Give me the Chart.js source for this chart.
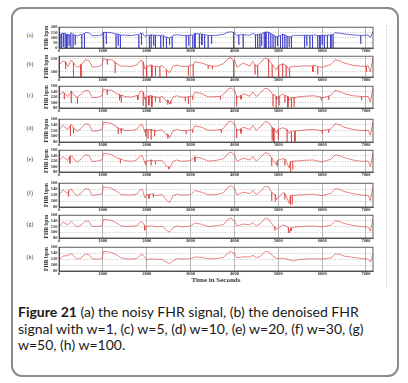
<!DOCTYPE html>
<html>
<head>
<meta charset="utf-8">
<script src="https://cdn.jsdelivr.net/npm/chart.js@4/dist/chart.umd.min.js"></script>
<style>
html, body { margin: 0; padding: 0; background: #fff; }
body { width: 408px; height: 383px; position: relative; overflow: hidden; }
#box { position: absolute; left: 11px; top: 7px; width: 388px; height: 370px; box-sizing: border-box;
       border: 2px solid #8c8c8c; border-radius: 11px; }
#edge { position: absolute; left: 386px; top: 25px; height: 262px; border-left: 1px dotted #d0d0d0; }
canvas { position: absolute; }
.tag { position: absolute; width: 20px; left: 20px; text-align: center; font: 6px "Liberation Serif", serif; color: #444; }
#cap { position: absolute; left: 18px; top: 304px; font: 14px Lato, sans-serif; line-height: 16.5px; color: #1a1a1a; white-space: nowrap; }
</style>
</head>
<body>
<div id="box"></div>
<div id="edge"></div>
<div id="cap"><b>Figure 21</b> (a) the noisy FHR signal, (b) the denoised FHR<br>signal with w=1, (c) w=5, (d) w=10, (e) w=20, (f) w=30, (g)<br>w=50, (h) w=100.</div>
<script>
// sample times (seconds) shared by all traces
const times = [
  0, 90, 200, 280, 350, 420, 500, 600, 680, 760,
  900, 985, 1010, 1100, 1200, 1300, 1400, 1500, 1650, 1780,
  1850, 1900, 1960, 2000, 2100, 2200, 2350, 2450, 2520, 2600,
  2680, 2800, 3000, 3100, 3250, 3400, 3600, 3750, 3850, 3920,
  4000, 4060, 4200, 4350, 4420, 4500, 4600, 4700, 4780, 4880,
  4960, 5100, 5250, 5350, 5450, 5600, 5800, 6000, 6200, 6300,
  6400, 6500, 6700, 6900, 7050, 7100, 7160
];

// FHR (bpm) at those times, one list per panel
const fhrA = [
  128, 144, 120, 146, 126, 116, 132, 148, 145, 118,
  120, 128, 152, 150, 147, 133, 122, 123, 120, 128,
  143, 144, 110, 124, 128, 117, 126, 103, 96, 122,
  127, 121, 125, 140, 135, 121, 122, 132, 151, 156,
  147, 117, 135, 122, 141, 123, 138, 155, 151, 125,
  108, 133, 106, 122, 121, 124, 127, 117, 129, 147,
  143, 135, 126, 121, 124, 100, 158
];
const fhrB = [
  126, 142, 120, 145, 126, 117, 131, 146, 144, 118,
  120, 127, 151, 149, 146, 133, 122, 122, 120, 127,
  142, 143, 110, 124, 127, 117, 125, 103, 96, 121,
  126, 121, 124, 139, 134, 121, 122, 131, 150, 155,
  146, 117, 134, 122, 140, 122, 137, 154, 150, 124,
  108, 132, 106, 121, 121, 123, 126, 117, 128, 146,
  142, 134, 125, 121, 123, 100, 154
];
const fhrC = [
  125, 140, 122, 143, 126, 118, 130, 145, 143, 118,
  120, 126, 150, 148, 146, 133, 122, 122, 120, 126,
  141, 142, 112, 123, 126, 117, 124, 104, 96, 120,
  125, 120, 123, 138, 133, 121, 122, 130, 149, 154,
  145, 118, 133, 123, 139, 122, 136, 153, 149, 124,
  110, 131, 108, 120, 121, 123, 125, 117, 127, 145,
  141, 133, 125, 120, 122, 102, 152
];
const fhrD = [
  122, 138, 124, 142, 126, 118, 128, 144, 142, 118,
  120, 125, 150, 148, 145, 134, 122, 121, 120, 125,
  140, 141, 114, 122, 125, 118, 123, 105, 95, 119,
  124, 120, 122, 137, 132, 121, 122, 128, 148, 153,
  144, 120, 132, 124, 138, 121, 135, 152, 148, 124,
  112, 130, 110, 120, 120, 122, 124, 118, 126, 144,
  140, 132, 124, 120, 121, 104, 150
];
const fhrE = [
  122, 136, 123, 141, 125, 117, 127, 143, 141, 118,
  121, 125, 149, 147, 144, 133, 122, 122, 119, 125,
  139, 140, 112, 121, 125, 117, 123, 102, 93, 119,
  124, 119, 122, 136, 131, 120, 123, 129, 147, 153,
  143, 119, 131, 124, 137, 120, 134, 151, 148, 123,
  106, 129, 95, 120, 121, 123, 124, 117, 127, 143,
  140, 133, 124, 119, 120, 100, 149
];
const fhrF = [
  120, 138, 124, 140, 126, 118, 126, 142, 140, 119,
  122, 124, 148, 146, 143, 134, 123, 121, 120, 124,
  138, 139, 110, 122, 124, 118, 122, 104, 95, 118,
  123, 120, 121, 135, 130, 121, 122, 128, 146, 152,
  142, 120, 130, 125, 136, 121, 133, 150, 147, 124,
  105, 128, 92, 119, 120, 122, 123, 118, 126, 142,
  139, 132, 125, 120, 119, 102, 148
];
const fhrG = [
  118, 136, 126, 138, 127, 119, 125, 140, 138, 120,
  121, 123, 145, 144, 141, 134, 124, 120, 121, 123,
  136, 137, 108, 120, 123, 119, 121, 108, 100, 116,
  122, 119, 122, 133, 128, 120, 123, 127, 145, 150,
  140, 122, 129, 126, 135, 122, 132, 149, 146, 125,
  110, 126, 98, 118, 119, 121, 122, 119, 125, 140,
  138, 131, 124, 120, 118, 104, 146
];
const fhrH = [
  115, 130, 132, 139, 128, 120, 124, 137, 136, 121,
  120, 122, 146, 145, 142, 135, 126, 121, 120, 122,
  133, 136, 126, 118, 121, 120, 119, 110, 104, 114,
  121, 120, 121, 127, 126, 121, 122, 126, 140, 146,
  138, 124, 128, 127, 133, 124, 130, 146, 144, 130,
  122, 123, 118, 113, 118, 120, 121, 120, 124, 137,
  136, 130, 126, 122, 120, 110, 138
];

// short drop-outs: [time, level around it, lowest value]
const spikesA = [
  [20, 130, 0], [60, 138, 0], [100, 142, 10], [140, 140, 0], [180, 130, 0], [230, 126, 20], [270, 138, 0],
  [320, 132, 0], [370, 125, 30], [520, 128, 0], [580, 140, 0], [1020, 150, 0], [1080, 150, 40],
  [1300, 135, 0], [1350, 133, 20], [1400, 126, 0], [1820, 126, 0], [1880, 140, 30], [2060, 122, 0],
  [2100, 124, 0], [2160, 124, 20], [2200, 122, 0], [2320, 120, 0], [2380, 118, 10], [2450, 104, 0],
  [2520, 96, 30], [2580, 108, 0], [2900, 121, 0], [2960, 121, 20], [3050, 124, 0], [3100, 138, 0],
  [3200, 136, 0], [3260, 132, 30], [3320, 128, 0], [3400, 121, 0], [3480, 121, 40], [3980, 150, 0],
  [4100, 126, 30], [4200, 128, 0], [4480, 128, 0], [4530, 130, 0], [4580, 132, 0], [4620, 136, 20],
  [4680, 150, 0], [4720, 154, 0], [4780, 152, 0], [4830, 140, 0], [4880, 128, 0], [4930, 115, 0],
  [4980, 110, 20], [5050, 120, 0], [5100, 133, 0], [5150, 126, 0], [5200, 115, 0], [5250, 106, 10],
  [5300, 112, 0], [5600, 122, 0], [5650, 122, 20], [5720, 122, 0], [5780, 122, 0], [5900, 120, 0],
  [5950, 121, 0], [6000, 122, 30], [6050, 122, 0], [6120, 123, 0], [6200, 124, 0], [6250, 130, 0],
  [6880, 121, 40]
];
const spikesB = [
  [150, 138, 110], [330, 135, 80], [500, 124, 80], [1100, 146, 128], [1280, 138, 95], [1920, 138, 82],
  [2000, 118, 80], [2120, 122, 80], [2200, 121, 84], [2300, 119, 80], [2450, 108, 80], [2950, 121, 85],
  [3060, 128, 80], [3400, 125, 112], [3500, 122, 110], [3980, 140, 80], [4470, 128, 90], [4530, 126, 80],
  [4780, 146, 80], [4860, 128, 80], [5010, 124, 80], [5100, 130, 80], [5180, 124, 80], [5260, 118, 80],
  [5790, 122, 100], [5900, 120, 90], [7010, 122, 100]
];
const spikesC = [
  [120, 135, 112], [280, 140, 98], [420, 120, 96], [1100, 145, 128], [1380, 130, 108], [1420, 128, 100],
  [1800, 124, 110], [1920, 138, 88], [1980, 120, 82], [2050, 124, 90], [2120, 122, 84], [2200, 121, 104],
  [2300, 119, 100], [2480, 110, 92], [2550, 105, 94], [2880, 120, 105], [2950, 121, 95], [3050, 124, 110],
  [3680, 123, 110], [4050, 125, 86], [4150, 126, 112], [4880, 130, 85], [4950, 124, 80], [5020, 124, 90],
  [5150, 126, 100], [5220, 122, 82], [5300, 118, 80], [5360, 116, 84], [5980, 120, 108], [6150, 124, 110],
  [6900, 122, 108]
];
const spikesD = [
  [260, 138, 100], [330, 130, 110], [1350, 130, 108], [1420, 128, 110], [1980, 125, 100], [2030, 124, 92],
  [2100, 122, 88], [2180, 122, 100], [2480, 108, 92], [2900, 120, 108], [3050, 124, 112], [3700, 124, 112],
  [4050, 125, 95], [4150, 126, 110], [4860, 132, 85], [4900, 128, 80], [5000, 124, 90], [5200, 124, 80],
  [5300, 118, 80], [5380, 118, 82], [6000, 120, 110], [6150, 124, 112]
];
const spikesE = [
  [250, 138, 112], [1400, 128, 112], [1980, 120, 105], [2100, 122, 104], [2200, 121, 108], [2500, 100, 90],
  [3100, 135, 118], [4850, 132, 102], [4980, 122, 100], [5150, 128, 104], [5280, 118, 80], [5330, 120, 88]
];
const spikesF = [
  [220, 135, 115], [2050, 122, 108], [2150, 124, 112], [4850, 130, 100], [4930, 122, 98], [5150, 126, 105],
  [5280, 118, 86], [5320, 120, 90]
];
const spikesG = [[1950, 125, 106], [4920, 120, 106], [5230, 118, 98], [5290, 116, 104]];
const spikesH = [];

const xTicks = [0, 1000, 2000, 3000, 4000, 5000, 6000, 7000];
const yTicksA = [0, 50, 100, 150, 200];
const yTicksB = [100, 150];
const yTicks = [80, 100, 120, 140, 160];

const panels = [
  { tag: '(a)', values: fhrA, spikes: spikesA, ticks: yTicksA, min: 0, max: 200, color: '#2a2ac4', top: 26, bottom: 48 },
  { tag: '(b)', values: fhrB, spikes: spikesB, ticks: yTicksB, min: 80, max: 160, color: '#d82424', top: 55, bottom: 77 },
  { tag: '(c)', values: fhrC, spikes: spikesC, ticks: yTicks, min: 80, max: 160, color: '#d82424', top: 85, bottom: 108 },
  { tag: '(d)', values: fhrD, spikes: spikesD, ticks: yTicks, min: 80, max: 160, color: '#d82424', top: 118, bottom: 142 },
  { tag: '(e)', values: fhrE, spikes: spikesE, ticks: yTicks, min: 80, max: 160, color: '#d83030', top: 149, bottom: 172 },
  { tag: '(f)', values: fhrF, spikes: spikesF, ticks: yTicks, min: 80, max: 160, color: '#d83030', top: 182, bottom: 207 },
  { tag: '(g)', values: fhrG, spikes: spikesG, ticks: yTicks, min: 80, max: 160, color: '#d83838', top: 214, bottom: 238 },
  { tag: '(h)', values: fhrH, spikes: spikesH, ticks: yTicks, min: 80, max: 160, color: '#d83838', top: 246, bottom: 271 }
];

const frame = {
  id: 'frame',
  afterDraw(chart) {
    const { ctx, chartArea: a } = chart;
    ctx.save();
    ctx.strokeStyle = '#3c3c3c';
    ctx.lineWidth = 0.8;
    ctx.strokeRect(a.left, a.top, a.right - a.left, a.bottom - a.top);
    ctx.restore();
  }
};

function buildPoints(values, spikes) {
  const pts = times.map((t, i) => ({ x: t, y: values[i] }));
  spikes.forEach(([t, level, low]) => {
    pts.push({ x: t - 3, y: level }, { x: t, y: low }, { x: t + 3, y: level });
  });
  return pts.sort((p, q) => p.x - q.x);
}

const LEFT = 42, RIGHT = 376, PAD_TOP = 3;
const tickFont = { family: 'Liberation Serif', size: 4.5, weight: 'bold' };

panels.forEach((p, i) => {
  const last = i === panels.length - 1;
  const xh = last ? 16 : 7;
  const canvas = document.createElement('canvas');
  const w = RIGHT - LEFT, h = (p.bottom - p.top) + PAD_TOP + xh;
  canvas.width = w; canvas.height = h;
  canvas.style.left = LEFT + 'px';
  canvas.style.top = (p.top - PAD_TOP) + 'px';
  canvas.style.width = w + 'px'; canvas.style.height = h + 'px';
  document.body.appendChild(canvas);

  const tag = document.createElement('div');
  tag.className = 'tag';
  tag.textContent = p.tag;
  tag.style.top = ((p.top + p.bottom) / 2 - 5) + 'px';
  document.body.appendChild(tag);

  new Chart(canvas, {
    type: 'line',
    data: {
      datasets: [{
        data: buildPoints(p.values, p.spikes),
        borderColor: p.color,
        borderWidth: i === 0 ? 0.7 : 0.6,
        pointRadius: 0,
        tension: 0
      }]
    },
    options: {
      animation: false,
      responsive: false,
      events: [],
      layout: { padding: { top: PAD_TOP, right: 3, left: 0, bottom: 0 } },
      plugins: { legend: { display: false }, tooltip: { enabled: false } },
      scales: {
        x: {
          type: 'linear',
          min: 0,
          max: 7160,
          afterBuildTicks: s => { s.ticks = xTicks.map(v => ({ value: v })); },
          afterFit: s => { s.height = xh; },
          ticks: { font: tickFont, color: '#333', padding: 0.5, maxRotation: 0, autoSkip: false, callback: v => String(v) },
          grid: { color: '#8a8a8a', lineWidth: 0.6, drawTicks: false },
          border: { color: '#3c3c3c', width: 0.8 },
          title: {
            display: last,
            text: 'Time in Seconds',
            color: '#333',
            padding: { top: 0, bottom: 3 },
            font: { family: 'Liberation Serif', size: 7, weight: 'bold' }
          }
        },
        y: {
          min: p.min,
          max: p.max,
          afterBuildTicks: s => { s.ticks = p.ticks.map(v => ({ value: v })); },
          afterFit: s => { s.width = 59 - LEFT; },
          ticks: { font: tickFont, color: '#333', padding: 1.5, autoSkip: false, callback: v => String(v) },
          grid: { color: '#a0a0a0', lineWidth: 0.6, drawTicks: false },
          border: { color: '#3c3c3c', width: 0.8, dash: [1, 1.5] },
          title: {
            display: true,
            text: 'FHR bpm',
            color: '#333',
            padding: { top: 1, bottom: 0 },
            font: { family: 'Liberation Serif', size: 5.5, weight: 'bold' }
          }
        }
      }
    },
    plugins: [frame]
  });
});
</script>
</body>
</html>
